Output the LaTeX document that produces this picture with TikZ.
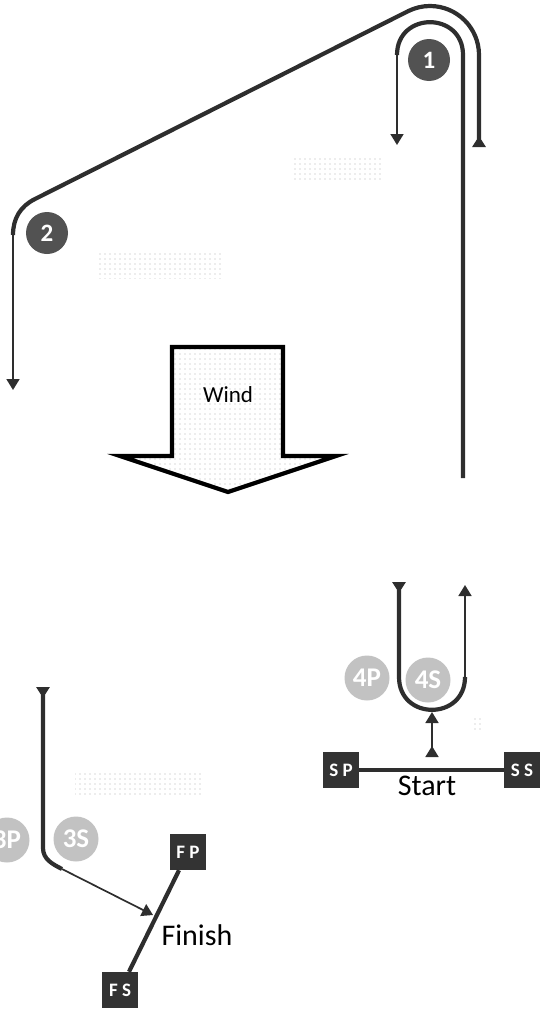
\documentclass[tikz,border=0pt]{standalone}
\usepackage{fontspec}
\setmainfont{Carlito}
\usepackage{tikz}
\usetikzlibrary{arrows.meta}
\usetikzlibrary{patterns.meta}

\begin{document}
\begin{tikzpicture}[x=1pt,y=1pt,
    thickleg/.style={line width=4.2pt,draw=black!82},
    thinleg/.style={line width=1.7pt,draw=black!82},
    tri/.tip={Triangle[width=13pt,length=11pt]},
    rtri/.tip={Triangle[width=13pt,length=11pt,reversed]},
    darkbuoy/.style={circle,fill=black!68,minimum size=42pt,inner sep=0pt,
      text=white,font=\bfseries\fontsize{25}{25}\selectfont},
    greybuoy/.style={circle,fill=black!24,minimum size=45pt,inner sep=0pt,
      text=white,font=\bfseries\fontsize{27}{27}\selectfont},
    endbox/.style={rectangle,fill=black!80,minimum size=36pt,inner sep=0pt,
      text=white,font=\bfseries\fontsize{19}{19}\selectfont},
    faint/.style={pattern={Dots[distance=5pt,radius=0.6pt]},pattern color=black!30}]
    \useasboundingbox (0,0) rectangle (540,-1009);
    \fill[faint] (293,-157) rectangle (382,-182);
    \fill[faint] (98,-253) rectangle (222,-278);
    \fill[faint] (75,-772) rectangle (202,-797);
    \fill[faint] (471,-716) rectangle (484,-729);
    %
    \draw[thickleg,rtri-] (479,-147) -- (479,-55)
      arc[start angle=0,end angle=116.5,radius=49]
      -- (35,-199) to [out=206.5,in=90] (13,-235);
    \draw[thinleg,-tri] (13,-235) -- (13,-390);
    \draw[thickleg] (463,-478) -- (463,-55)
      to [out=90,in=90,looseness=1.7] (397,-55);
    \draw[thinleg,-tri] (397,-55) -- (397,-145);
    %
    \draw[line width=4.2pt,line join=miter,faint] (172,-347) -- (283,-347)
      -- (283,-456) -- (336,-456) -- (228,-492) -- (120,-456)
      -- (172,-456) -- cycle;
    \node[anchor=base,font=\fontsize{23}{23}\selectfont] (wind) at (228,-402) {Wind};
    %
    \draw[thickleg,rtri-] (399,-582) -- (399,-677)
      to [out=down,in=down,looseness=1.7] (465,-677);
    \draw[thinleg,-tri] (465,-677) -- (465,-585);
    \draw[thinleg,rtri-tri] (432,-757) -- (432,-712);
    \node[endbox] (sp) at (341,-770) {S P};
    \node[endbox] (ss) at (522,-770) {S S};
    \draw[thickleg] (sp) -- (ss);
    \node[anchor=base,font=\fontsize{30}{30}\selectfont] (start) at (427,-795) {Start};
    %
    \draw[thickleg,rtri-] (43,-687) -- (43,-848)
      to [out=down,in=153] (62,-869);
    \draw[thinleg,-tri] (62,-869) -- (153,-915);
    \node[endbox] (fp) at (188,-852) {F P};
    \node[endbox] (fs) at (120,-990) {F S};
    \draw[thickleg] (fp) -- (fs);
    \node[anchor=base,font=\fontsize{30}{30}\selectfont] (finish) at (197,-945) {Finish};
    %
    \node[darkbuoy] (b1) at (429,-60) {1};
    \node[darkbuoy] (b2) at (47,-233) {2};
    \node[greybuoy] (b4p) at (367,-678) {4P};
    \node[greybuoy] (b4s) at (428,-680) {4S};
    \node[greybuoy] (b3p) at (7,-840) {3P};
    \node[greybuoy] (b3s) at (76,-839) {3S};
  \end{tikzpicture}
\end{document}
